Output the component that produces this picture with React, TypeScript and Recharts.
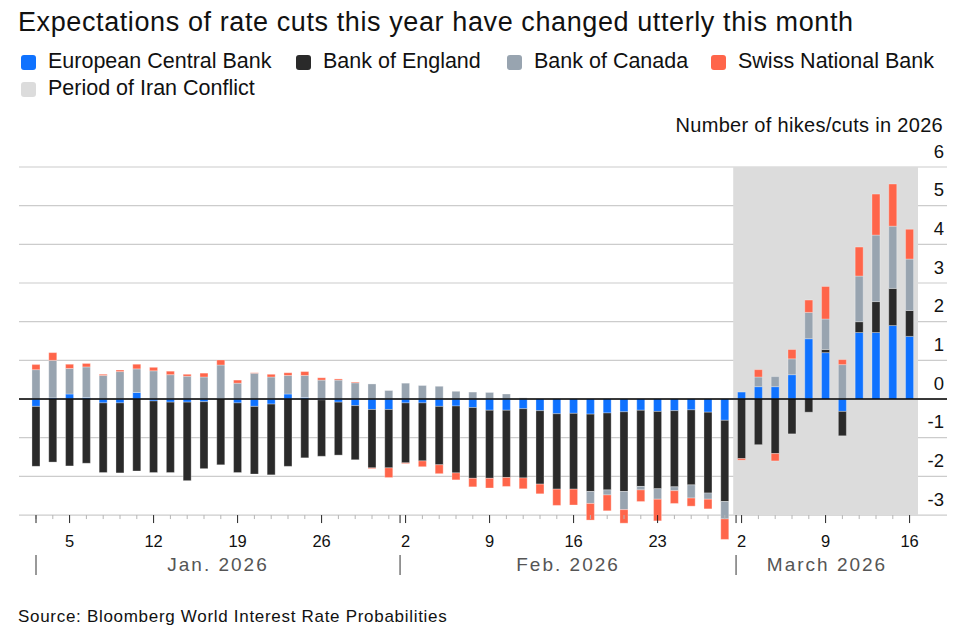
import { BarChart, Bar, XAxis, YAxis, CartesianGrid, ReferenceArea, ReferenceLine } from "recharts";

// trading days shown on the x axis
const dates = [
  "2026-01-01", "2026-01-02",
  "2026-01-05", "2026-01-06", "2026-01-07", "2026-01-08", "2026-01-09",
  "2026-01-12", "2026-01-13", "2026-01-14", "2026-01-15", "2026-01-16",
  "2026-01-19", "2026-01-20", "2026-01-21", "2026-01-22", "2026-01-23",
  "2026-01-26", "2026-01-27", "2026-01-28", "2026-01-29", "2026-01-30",
  "2026-02-02", "2026-02-03", "2026-02-04", "2026-02-05", "2026-02-06",
  "2026-02-09", "2026-02-10", "2026-02-11", "2026-02-12", "2026-02-13",
  "2026-02-16", "2026-02-17", "2026-02-18", "2026-02-19", "2026-02-20",
  "2026-02-23", "2026-02-24", "2026-02-25", "2026-02-26", "2026-02-27",
  "2026-03-02", "2026-03-03", "2026-03-04", "2026-03-05", "2026-03-06",
  "2026-03-09", "2026-03-10", "2026-03-11", "2026-03-12", "2026-03-13",
  "2026-03-16",
];

// number of hikes (+) / cuts (-) priced for 2026
const ecb = [
  -0.19, 0.03,
  0.13, 0.04, -0.1, -0.1, 0.17,
  -0.05, -0.08, -0.08, -0.07, 0.01,
  -0.1, -0.19, -0.13, 0.13, 0.04,
  -0.02, -0.08, -0.17, -0.27, -0.27,
  -0.1, -0.1, -0.19, -0.18, -0.22,
  -0.29, -0.29, -0.25, -0.3, -0.38,
  -0.37, -0.39, -0.36, -0.33, -0.29,
  -0.32, -0.3, -0.28, -0.34, -0.55,
  0.18, 0.32, 0.32, 0.63, 1.56,
  1.2, -0.32, 1.72, 1.72, 1.9,
  1.62,
];
const boe = [
  -1.55, -1.63,
  -1.73, -1.66, -1.8, -1.81, -1.86,
  -1.85, -1.82, -2.03, -1.73, -1.7,
  -1.8, -1.75, -1.83, -1.74, -1.52,
  -1.46, -1.37, -1.4, -1.51, -1.51,
  -1.55, -1.5, -1.51, -1.73, -1.83,
  -1.76, -1.74, -1.79, -1.9, -1.95,
  -1.96, -2.0, -1.99, -2.06, -1.97,
  -2.0, -1.97, -1.94, -2.09, -2.1,
  -1.54, -1.18, -1.41, -0.9, -0.34,
  0.08, -0.63, 0.28, 0.8, 0.96,
  0.67,
];
const boc = [
  0.76, 0.97,
  0.66, 0.79, 0.61, 0.71, 0.61,
  0.73, 0.63, 0.59, 0.57, 0.87,
  0.41, 0.67, 0.57, 0.48, 0.57,
  0.49, 0.49, 0.42, 0.39, 0.22,
  0.41, 0.35, 0.33, 0.2, 0.18,
  0.17, 0.13, 0.03, 0, 0,
  0, -0.31, -0.13, -0.47, -0.09,
  -0.27, -0.1, -0.34, -0.16, -0.45,
  0, 0.25, 0.26, 0.41, 0.68,
  0.79, 0.89, 1.18, 1.72, 1.61,
  1.33,
];
const snb = [
  0.13, 0.2,
  0.11, 0.09, 0.03, 0.04, 0.12,
  0.09, 0.09, 0.05, 0.1, 0.13,
  0.08, 0.01, 0.07, 0.07, 0.1,
  0.06, 0.03, 0.02, -0.02, -0.25,
  -0.02, -0.15, -0.23, -0.18, -0.22,
  -0.25, -0.23, -0.28, -0.25, -0.42,
  -0.41, -0.43, -0.41, -0.35, -0.3,
  -0.56, -0.33, -0.21, -0.25, -0.53,
  -0.04, 0.19, -0.19, 0.24, 0.32,
  0.84, 0.13, 0.75, 1.06, 1.09,
  0.77,
];

const yTicks = [-3, -2, -1, 0, 1, 2, 3, 4, 5, 6];
const monthNames = ["Jan. 2026", "Feb. 2026", "March 2026"];
const conflictStart = "2026-03-02";
const conflictEnd = "2026-03-16";

const data = dates.map((date, i) => ({
  date,
  ecb: ecb[i],
  boe: boe[i],
  boc: boc[i],
  snb: snb[i],
}));

const COLORS = {
  ecb: "#0f72ff",
  boe: "#2a2a2a",
  boc: "#98a4b0",
  snb: "#ff654a",
  conflict: "#dcdcdc",
};

const FONT = '"Liberation Sans", Arial, Helvetica, sans-serif';

// layout
const W = 959;
const H = 635;
const M = { top: 167, right: 11, bottom: 69, left: 19 };
const X_AXIS_H = 20;
const Y_AXIS_W = 1;
const PAD_L = 8.6;
const PAD_R = 29;
const Y_MIN = -3.8;
const Y_MAX = 6;
const PLOT_W = W - M.left - M.right - Y_AXIS_W;
const PLOT_H = H - M.top - M.bottom - X_AXIS_H;
const STEP = (PLOT_W - PAD_L - PAD_R) / dates.length;
// the axis row sits on the -3 gridline, bars may run below it
const AXIS_SHIFT = ((yTicks[0] - Y_MIN) / (Y_MAX - Y_MIN)) * PLOT_H;

const parse = (s: string) => {
  const [y, m, d] = s.split("-").map(Number);
  return { month: m, day: d, weekday: new Date(Date.UTC(y, m - 1, d)).getUTCDay() };
};

const monthFirst = (m: number) => dates.findIndex((d) => parse(d).month === m);

function DayTick(props: any) {
  const { x, y, index } = props;
  const info = parse(dates[index]);
  const y0 = y - AXIS_SHIFT;
  const isFirst = monthFirst(info.month) === index;
  const boundary = (i: number) => x + (i - index) * STEP - (parse(dates[i]).day === 1 ? 0 : 0.33 * STEP);

  let month = null;
  if (isFirst) {
    const bx = boundary(index);
    const next = monthFirst(info.month + 1);
    const lastIdx = dates.length - 1;
    const endX = next > 0 ? boundary(next) : x + (lastIdx - index + 0.5) * STEP;
    month = (
      <g>
        <line x1={bx} x2={bx} y1={y0} y2={y0 + 8} stroke="#222" strokeWidth={1} />
        <line x1={bx} x2={bx} y1={y0 + 40} y2={y0 + 60} stroke="#555" strokeWidth={1.2} />
        <text
          x={(bx + endX) / 2}
          y={y0 + 49}
          textAnchor="middle"
          dominantBaseline="central"
          fontSize={19}
          fill="#555"
          letterSpacing={2}
          fontFamily={FONT}
        >
          {monthNames[info.month - 1]}
        </text>
      </g>
    );
  }

  const monday = info.weekday === 1;
  return (
    <g>
      <line x1={x} x2={x} y1={y0} y2={y0 + (monday ? 8 : 4)} stroke={monday ? "#222" : "#b5b5b5"} strokeWidth={1} />
      {monday && (
        <text x={x} y={y0 + 26} textAnchor="middle" dominantBaseline="central" fontSize={16.5} fill="#111" fontFamily={FONT}>
          {info.day}
        </text>
      )}
      {month}
    </g>
  );
}

function ValueTick(props: any) {
  const { x, y, payload } = props;
  return (
    <text x={x - 3} y={y - 16} textAnchor="end" dominantBaseline="central" fontSize={18.5} fill="#111" fontFamily={FONT}>
      {String(payload.value)}
    </text>
  );
}

const legendItems = [
  { label: "European Central Bank", color: COLORS.ecb, left: 21, top: 55 },
  { label: "Bank of England", color: COLORS.boe, left: 296, top: 55 },
  { label: "Bank of Canada", color: COLORS.boc, left: 507, top: 55 },
  { label: "Swiss National Bank", color: COLORS.snb, left: 711, top: 55 },
  { label: "Period of Iran Conflict", color: COLORS.conflict, left: 21, top: 82 },
];

export default function App() {
  return (
    <div style={{ position: "absolute", left: 0, top: 0, width: W, height: H, background: "#fff", fontFamily: FONT, color: "#111" }}>
      <div style={{ position: "absolute", left: 18, top: 6, fontSize: 27, lineHeight: "32px", letterSpacing: 0.6, whiteSpace: "nowrap" }}>
        Expectations of rate cuts this year have changed utterly this month
      </div>
      {legendItems.map((it) => (
        <div key={it.label} style={{ position: "absolute", left: it.left, top: it.top, height: 15, whiteSpace: "nowrap" }}>
          <span
            style={{
              position: "absolute",
              left: 0,
              top: 0,
              width: 15,
              height: 15,
              borderRadius: 3,
              background: it.color,
            }}
          />
          <span style={{ position: "absolute", left: 27, top: -6, fontSize: 21.5, lineHeight: "24px" }}>{it.label}</span>
        </div>
      ))}
      <div style={{ position: "absolute", right: 16, top: 114, fontSize: 20, lineHeight: "22px", letterSpacing: 0.3, whiteSpace: "nowrap" }}>
        Number of hikes/cuts in 2026
      </div>
      <div style={{ position: "absolute", left: 0, top: 0 }}>
        <BarChart
          width={W}
          height={H}
          data={data}
          margin={M}
          stackOffset="sign"
          barCategoryGap="26%"
        >
          <ReferenceArea x1={conflictStart} x2={conflictEnd} y1={yTicks[0]} y2={Y_MAX} fill={COLORS.conflict} fillOpacity={1} stroke="none" />
          <CartesianGrid vertical={false} syncWithTicks stroke="#cccccc" strokeWidth={1.2} />
          <XAxis
            dataKey="date"
            interval={0}
            height={X_AXIS_H}
            padding={{ left: PAD_L, right: PAD_R }}
            axisLine={false}
            tickLine={false}
            tickSize={0}
            tickMargin={0}
            tick={<DayTick />}
          />
          <YAxis
            orientation="right"
            width={Y_AXIS_W}
            domain={[Y_MIN, Y_MAX]}
            ticks={yTicks}
            allowDataOverflow={false}
            axisLine={false}
            tickLine={false}
            tickSize={0}
            tickMargin={0}
            tick={<ValueTick />}
          />
          <Bar dataKey="ecb" stackId="a" fill={COLORS.ecb} stroke="#fff" strokeOpacity={0.3} isAnimationActive={false} />
          <Bar dataKey="boe" stackId="a" fill={COLORS.boe} stroke="#fff" strokeOpacity={0.3} isAnimationActive={false} />
          <Bar dataKey="boc" stackId="a" fill={COLORS.boc} stroke="#fff" strokeOpacity={0.3} isAnimationActive={false} />
          <Bar dataKey="snb" stackId="a" fill={COLORS.snb} stroke="#fff" strokeOpacity={0.3} isAnimationActive={false} />
          <ReferenceLine y={0} stroke="#000" strokeWidth={1.5} />
        </BarChart>
      </div>
      <div style={{ position: "absolute", left: 18, top: 606, fontSize: 17, lineHeight: "22px", letterSpacing: 0.7, whiteSpace: "nowrap" }}>
        Source: Bloomberg World Interest Rate Probabilities
      </div>
    </div>
  );
}
